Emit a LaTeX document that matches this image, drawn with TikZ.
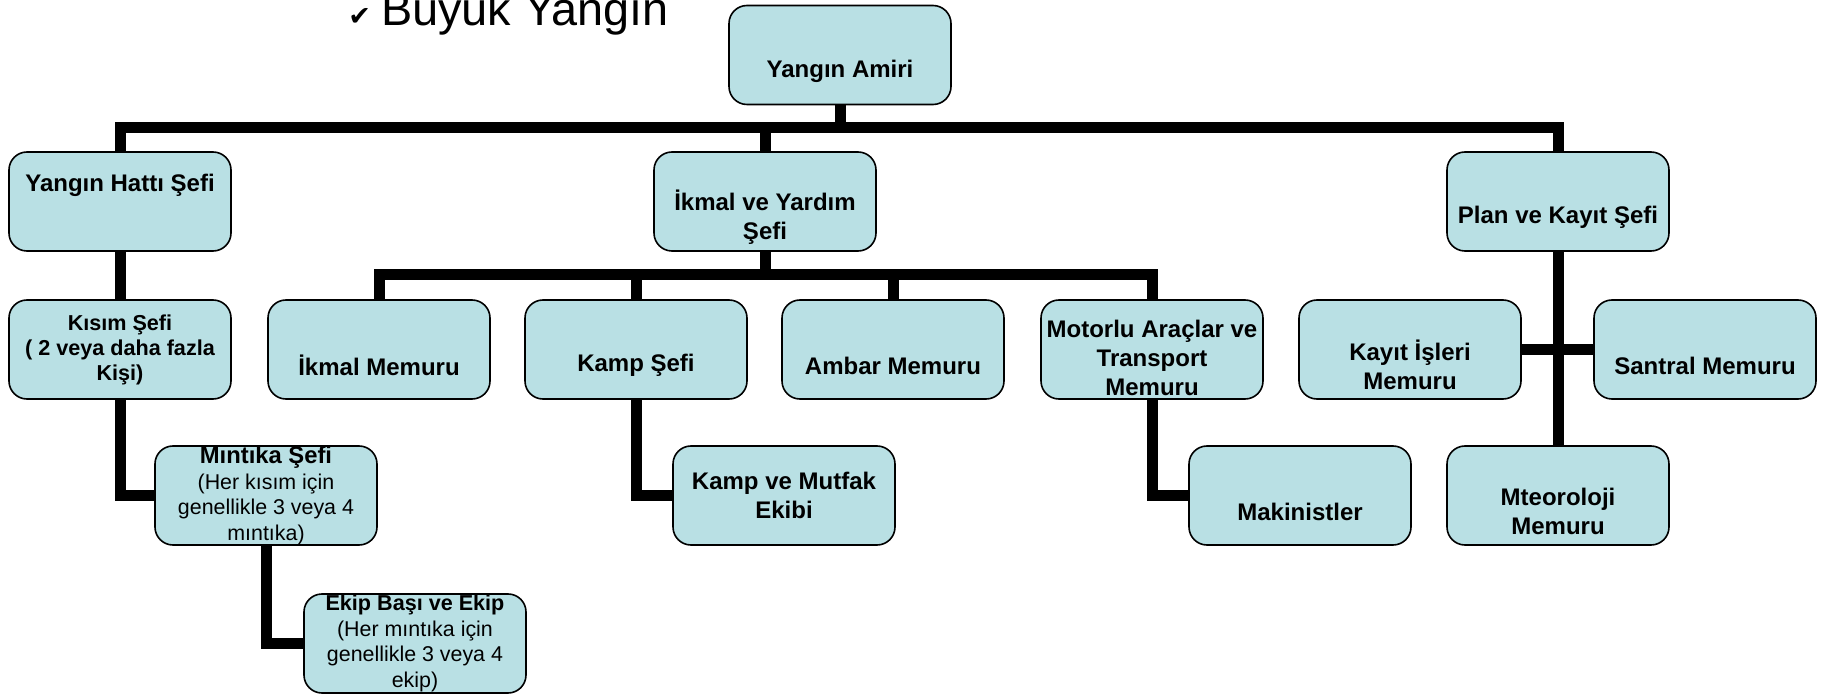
\documentclass[tikz,border=0pt]{standalone}
\usepackage{fontspec}
\setmainfont{Liberation Sans}
\newfontfamily\symfont{DejaVu Sans}
\usepackage{tikz}
\usepackage{xcolor}
\definecolor{boxblue}{RGB}{185,224,228}

\begin{document}
\begin{tikzpicture}[x=0.5pt, y=-0.5pt,
    box/.style={draw=black, line width=0.8pt, fill=boxblue, rounded corners=9pt,
        minimum width=111pt, minimum height=49.5pt, inner xsep=2pt, inner ysep=0pt,
        align=center, font=\bfseries\fontsize{12}{14.5}\selectfont},
    small/.style={font=\bfseries\fontsize{10.8}{12.5}\selectfont},
    detail/.style={font=\mdseries\fontsize{10.7}{12.8}\selectfont},
    link/.style={line width=5.5pt}]
\useasboundingbox (0,0) rectangle (1822,695);

% Title (cut at the top edge)
\node[anchor=base west, inner sep=0pt, font=\fontsize{23.4}{28}\selectfont] (title) at (348,26)
    {{\symfont\fontsize{13.5}{14}\selectfont ✔}\hspace{5pt}Büyük Yangın};

% Boxes
\node[box] (amiri) at (840,55) {\strut\\Yangın Amiri};

\node[box] (hatti) at (120,201.5) {Yangın Hattı Şefi\\\strut};
\node[box] (ikmal) at (765,201.5) {\strut\\İkmal ve Yardım\\Şefi};
\node[box] (plan) at (1558,201.5) {\strut\\Plan ve Kayıt Şefi};

\node[box, small] (kisim) at (120,349.5) {Kısım Şefi\\( 2 veya daha fazla\\Kişi)};
\node[box] (ikmalmem) at (379,349.5) {\strut\\İkmal Memuru};
\node[box] (kamp) at (636,349.5) {\strut\\Kamp Şefi};
\node[box] (ambar) at (893,349.5) {\strut\\Ambar Memuru};
\node[box] (motorlu) at (1152,349.5) {\rule{0pt}{17.5pt}Motorlu Araçlar ve\\Transport\\Memuru};
\node[box] (kayit) at (1410,349.5) {\strut\\Kayıt İşleri\\Memuru};
\node[box] (santral) at (1705,349.5) {\strut\\Santral Memuru};

\node[box, detail] (mintika) at (266,495.5)
    {{\bfseries\fontsize{11.9}{12.8}\selectfont Mıntıka Şefi}\\(Her kısım için\\genellikle 3 veya 4\\mıntıka)};
\node[box] (mutfak) at (784,495.5) {Kamp ve Mutfak\\Ekibi};
\node[box] (makinist) at (1300,495.5) {\strut\\Makinistler};
\node[box] (meteo) at (1558,495.5) {\strut\\Mteoroloji\\Memuru};

\node[box, detail] (ekip) at (415,643.5)
    {{\bfseries\fontsize{10.8}{12.8}\selectfont Ekip Başı ve Ekip}\\(Her mıntıka için\\genellikle 3 veya 4\\ekip)};

% Top bar
\coordinate (bar1) at (840,128);
\draw[link] (amiri.south) -- (bar1);
\draw[link] (hatti.north) |- (bar1) -| (plan.north);
\draw[link] (ikmal.north) -- (ikmal.north |- bar1);

% Supply bar
\coordinate (bar2) at (765,275);
\draw[link] (ikmal.south) -- (bar2);
\draw[link] (ikmalmem.north) |- (bar2) -| (motorlu.north);
\draw[link] (kamp.north) -- (kamp.north |- bar2);
\draw[link] (ambar.north) -- (ambar.north |- bar2);

% Fire line chain
\draw[link] (hatti.south) -- (kisim.north);
\draw[link] (kisim.south) |- (mintika.west);
\draw[link] (mintika.south) |- (ekip.west);

% Camp and transport
\draw[link] (kamp.south) |- (mutfak.west);
\draw[link] (motorlu.south) |- (makinist.west);

% Plan branch
\draw[link] (plan.south) -- (meteo.north);
\draw[link] (kayit.east) -- (santral.west);
\end{tikzpicture}
\end{document}
